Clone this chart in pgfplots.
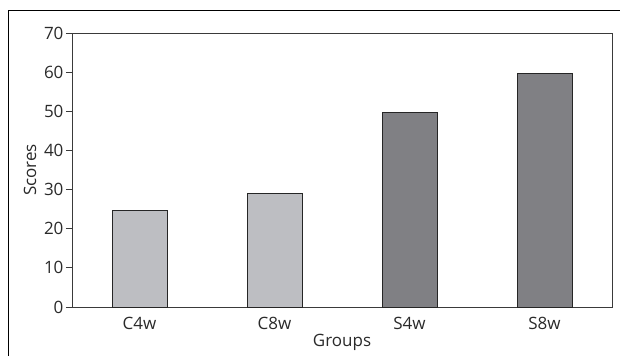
\documentclass[border=0pt]{standalone}
\usepackage{pgfplots}
\pgfplotsset{compat=1.18}
\usepackage{fontspec}
\setmainfont{Open Sans}
\definecolor{txt}{HTML}{2A2A2A}
\definecolor{axc}{HTML}{3A3A3A}
\definecolor{lightbar}{HTML}{BDBEC2}
\definecolor{darkbar}{HTML}{808084}
\begin{document}
\begin{tikzpicture}[x=1pt,y=1pt]
\path[use as bounding box] (0,0) rectangle (620,356);
\draw[black, line width=1pt] (8,0) -- (8,345) -- (621,345);
\begin{axis}[
  at={(72pt,49pt)}, anchor=south west,
  width=540pt, height=274pt, scale only axis,
  font=\fontsize{17}{20}\selectfont,
  /pgf/number format/assume math mode=true,
  xmin=-0.5, xmax=3.5, ymin=0, ymax=70,
  ytick={0,10,...,70},
  xtick={0,1,2,3},
  xticklabels={C4w,C8w,S4w,S8w},
  extra x ticks={-0.5,0.5,1.5,2.5,3.5},
  extra x tick labels={},
  extra x tick style={major tick length=6pt, tick style={axc, line width=1pt}},
  tick pos=left,
  tick align=outside,
  x tick style={draw=none},
  y tick style={axc, line width=1pt},
  major tick length=6pt,
  axis line style={axc, line width=1pt},
  tick label style={text=txt},
  label style={text=txt},
  xticklabel style={yshift=-1pt},
  yticklabel style={xshift=1pt},
  xlabel={Groups},
  ylabel={Scores},
  xlabel style={at={([yshift=-35pt]axis description cs:0.5,0)}, anchor=center},
  ylabel style={at={([xshift=-42pt]axis description cs:0,0.5)}, anchor=center},
  ybar, bar width=55pt,
  bar shift=0pt,
]
\addplot[fill=lightbar, draw=black!85, line width=1pt] coordinates {(0,24.6) (1,29.0)};
\addplot[fill=darkbar, draw=black!85, line width=1pt] coordinates {(2,49.6) (3,59.7)};
\end{axis}
\end{tikzpicture}
\end{document}
